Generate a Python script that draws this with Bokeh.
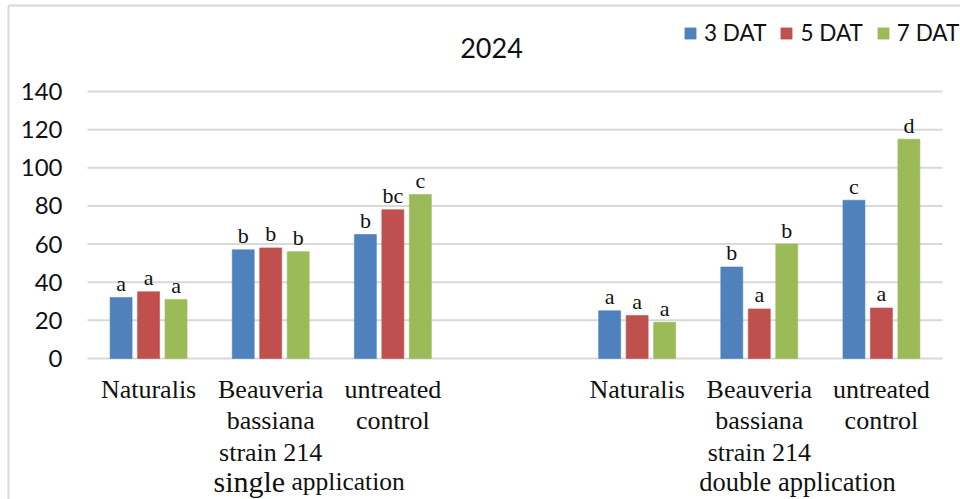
from bokeh.plotting import figure
from bokeh.models import Legend, LegendItem, ColumnDataSource, Range1d
from bokeh.core.properties import value
from bokeh.embed import file_html
from bokeh.resources import INLINE

title_text = "2024"
groups = ["single application", "double application"]
treatments = ["Naturalis", "Beauveria\nbassiana\nstrain 214", "untreated\ncontrol"]
series_names = ["3 DAT", "5 DAT", "7 DAT"]
colors = ["#4f81bd", "#c0504d", "#9bbb59"]

single_3dat = [32, 57, 65]
single_5dat = [35, 58, 78]
single_7dat = [31, 56, 86]
double_3dat = [25, 48, 83]
double_5dat = [22.5, 26, 26.5]
double_7dat = [19, 60, 115]

single_3dat_letters = ["a", "b", "b"]
single_5dat_letters = ["a", "b", "bc"]
single_7dat_letters = ["a", "b", "c"]
double_3dat_letters = ["a", "b", "c"]
double_5dat_letters = ["a", "a", "a"]
double_7dat_letters = ["a", "b", "d"]

y_ticks = [0, 20, 40, 60, 80, 100, 120, 140]

values = [[single_3dat, single_5dat, single_7dat], [double_3dat, double_5dat, double_7dat]]
letters = [[single_3dat_letters, single_5dat_letters, single_7dat_letters],
           [double_3dat_letters, double_5dat_letters, double_7dat_letters]]

n_t = len(treatments)
slots_per_group = n_t + 1
n_slots = slots_per_group * len(groups) - 1

# layout (pixels)
W, H = 960, 499
PLOT_L, PLOT_R = 87, 942
ZERO_PX = 358          # pixel row of value 0
TOP140_PX = 91         # pixel row of value 140
PX_PER_UNIT = (ZERO_PX - TOP140_PX) / 140.0
SLOT_PX = (PLOT_R - PLOT_L) / n_slots

x_lo = -0.5 - PLOT_L / SLOT_PX
x_hi = -0.5 + (W - PLOT_L) / SLOT_PX
y_lo = -(H - ZERO_PX) / PX_PER_UNIT
y_hi = ZERO_PX / PX_PER_UNIT

def py(pix):
    return (ZERO_PX - pix) / PX_PER_UNIT

def px(pix):
    return -0.5 + (pix - PLOT_L) / SLOT_PX

offsets = [-0.225, 0.0, 0.225]
bar_w = 0.18
TXT = "#111111"
GRID = "#d9d9d9"

p = figure(width=W, height=H, output_backend="svg", toolbar_location=None,
           x_range=Range1d(x_lo, x_hi), y_range=Range1d(y_lo, y_hi),
           min_border=0)
p.outline_line_color = None
p.background_fill_color = "white"
p.border_fill_color = "white"
p.xaxis.visible = False
p.yaxis.visible = False
p.grid.visible = False

# chart border (left and top edges visible in the view)
p.segment(x0=[px(8), px(8)], y0=[py(5), py(5)], x1=[x_hi, px(8)], y1=[py(5), y_lo],
          line_color=GRID, line_width=2)

# horizontal gridlines
p.segment(x0=[-0.5] * len(y_ticks), x1=[px(PLOT_R)] * len(y_ticks), y0=y_ticks, y1=y_ticks,
          line_color=GRID, line_width=2)

# y tick labels
p.text(x=[px(62)] * len(y_ticks), y=y_ticks, text=[str(t) for t in y_ticks], text_align="right",
       text_baseline="middle", text_font=value("Lato"), text_font_size="24px", text_color=TXT)

renderers = []
for si, name in enumerate(series_names):
    xs, tops, labs = [], [], []
    for gi in range(len(groups)):
        for ti in range(n_t):
            xs.append(gi * slots_per_group + ti + offsets[si])
            tops.append(values[gi][si][ti])
            labs.append(letters[gi][si][ti])
    src = ColumnDataSource(dict(x=xs, top=tops, lab=labs))
    r = p.vbar(x="x", top="top", width=bar_w, bottom=0, source=src,
               fill_color=colors[si], line_color=colors[si], line_alpha=0.6)
    renderers.append(r)
    p.text(x="x", y="top", text="lab", source=src, text_align="center",
           text_baseline="alphabetic", y_offset=-14, text_font=value("Liberation Serif"),
           text_font_size="22px", text_color=TXT)

# category labels
cat_x, cat_t = [], []
for gi in range(len(groups)):
    for ti in range(n_t):
        cat_x.append(gi * slots_per_group + ti)
        cat_t.append(treatments[ti])
p.text(x=cat_x, y=[py(374)] * len(cat_x), text=cat_t, text_align="center", text_baseline="top",
       text_font=value("Liberation Serif"), text_font_size="26px", text_color=TXT,
       text_line_height=1.1)

# group labels (first one uses a slightly larger first word, as in the original)
g0_first, g0_rest = groups[0].split(" ", 1)
p.text(x=[px(213)], y=[py(481)], text=[g0_first], text_align="left", text_baseline="alphabetic",
       text_font=value("Liberation Serif"), text_font_size="30px", text_color=TXT)
p.text(x=[px(291)], y=[py(481)], text=[g0_rest], text_align="left", text_baseline="alphabetic",
       text_font=value("Liberation Serif"), text_font_size="25.5px", text_color=TXT)
p.text(x=[px(797)], y=[py(481)], text=[groups[1]], text_align="center", text_baseline="alphabetic",
       text_font=value("Liberation Serif"), text_font_size="26.5px", text_color=TXT)

# title
p.text(x=[px(491)], y=[py(47)], text=[title_text], text_align="center", text_baseline="middle",
       text_font=value("Lato"), text_font_size="27px", text_color=TXT)

legend = Legend(items=[LegendItem(label=n, renderers=[r]) for n, r in zip(series_names, renderers)],
                orientation="horizontal", location=(683, H - 46), padding=0, margin=0,
                border_line_alpha=0, background_fill_alpha=0, glyph_width=14, glyph_height=14,
                label_standoff=7, spacing=13, label_text_font="Lato", label_text_font_size="22.5px",
                label_text_color=TXT)
p.add_layout(legend)

open("out.html", "w").write(file_html(p, INLINE))
